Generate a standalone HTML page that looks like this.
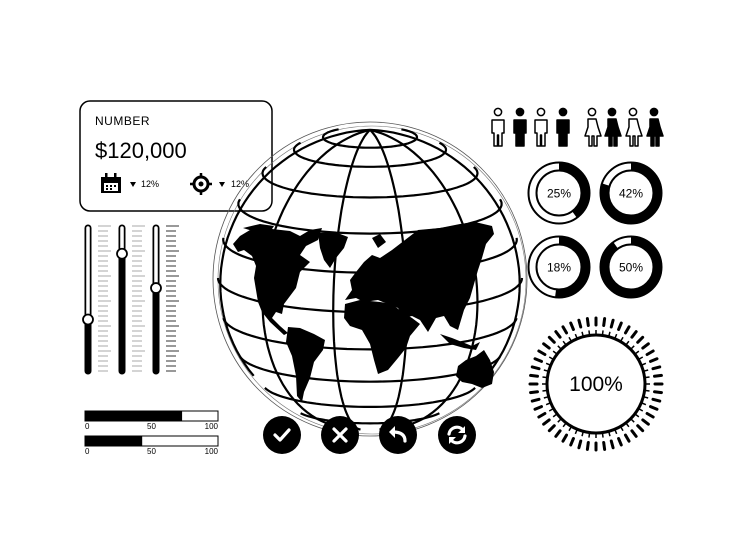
<!DOCTYPE html>
<html><head><meta charset="utf-8"><style>
html,body{margin:0;padding:0;background:#fff;}
svg{display:block;font-family:"Liberation Sans",sans-serif;}
</style></head><body>
<svg id="s" width="740" height="539" viewBox="0 0 740 539">
<g>
<rect x="80" y="101" width="192" height="110" rx="10" fill="#fff" stroke="#000" stroke-width="1.5"/>
<text x="95" y="125" font-size="12" letter-spacing="0.5">NUMBER</text>
<text x="95" y="158" font-size="22">$120,000</text>
<g>
<rect x="101" y="177" width="20" height="16" fill="#000"/>
<rect x="105" y="173" width="2.5" height="6" fill="#000"/><rect x="114" y="173" width="2.5" height="6" fill="#000"/>
<rect x="104" y="183" width="14" height="8" fill="#fff"/>
<g fill="#000"><rect x="106" y="185" width="2" height="2"/><rect x="110" y="185" width="2" height="2"/><rect x="114" y="185" width="2" height="2"/><rect x="106" y="188" width="2" height="2"/><rect x="110" y="188" width="2" height="2"/></g>
</g>
<path d="M130 182h6l-3 5z" fill="#000"/>
<text x="141" y="187" font-size="9">12%</text>
<g>
<circle cx="201" cy="184" r="7" fill="none" stroke="#000" stroke-width="3"/>
<circle cx="201" cy="184" r="2.5" fill="#000"/>
<path d="M201 173v5M201 190v5M190 184h5M207 184h5" stroke="#000" stroke-width="2.5"/>
</g>
<path d="M219 182h6l-3 5z" fill="#000"/>
<text x="231" y="187" font-size="9">12%</text>
</g>
<g id="sliders"></g>
<g id="bars"></g>
<g id="globe"></g>
<g id="people"></g>
<g id="donuts"></g>
<g id="gauge"></g>
<g id="buttons"></g>
</svg>
<script>
const sliderValues=[0.36,0.82,0.58];
const barValues=[73,43];
const barTicks=["0","50","100"];
const donutLabels=["25%","42%","18%","50%"];
const donutFill=[0.40,0.80,0.52,0.90];
const peopleGender=["m","m","m","m","f","f","f","f"];
const peopleFilled=[0,1,0,1,0,1,0,1];
const NS="http://www.w3.org/2000/svg";
function mk(t,a,p){const e=document.createElementNS(NS,t);for(const k in a)e.setAttribute(k,a[k]);p.appendChild(e);return e;}
const sl=document.getElementById('sliders');
const sx=[88,122,156],sTop=228,sBot=371;
sliderValues.forEach((v,i)=>{
 const g=mk('g',{},sl);
 
 
 const ky=sBot-v*(sBot-sTop);
 mk('line',{x1:sx[i],y1:sTop,x2:sx[i],y2:sBot,stroke:'#000','stroke-width':7,'stroke-linecap':'round'},g);
 mk('line',{x1:sx[i],y1:sTop,x2:sx[i],y2:ky,stroke:'#fff','stroke-width':3.5,'stroke-linecap':'round'},g);
 for(let t=0;t<=29;t++){const y=sTop-2+t*5;const w=(t%5==0)?13:10;
  mk('line',{x1:sx[i]+10,y1:y,x2:sx[i]+10+w,y2:y,stroke:i==2?'#333':'#aaa','stroke-width':1},g);}
 const k=mk('circle',{cx:sx[i],cy:ky,r:5,fill:'#fff',stroke:'#000','stroke-width':1.8},g);
 
 
});
const bg=document.getElementById('bars');
const bx0=85,bx1=218,bys=[411,436];
barValues.forEach((v,i)=>{
 const g=mk('g',{},bg);
 
 
 mk('rect',{x:bx0,y:bys[i],width:bx1-bx0,height:10,fill:'#fff',stroke:'#000','stroke-width':1},g);
 mk('rect',{x:bx0,y:bys[i],width:(bx1-bx0)*v/100,height:10,fill:'#000'},g);
 barTicks.forEach((t,j)=>{const tx=mk('text',{x:bx0+j*(bx1-bx0)/2,y:bys[i]+18,'font-size':8,'text-anchor':j==0?'start':j==1?'middle':'end'},g);tx.textContent=t;
  
  });
});
const gl=document.getElementById('globe');
const cx=370,cy=278,R=152,p0=13*Math.PI/180;
mk('circle',{cx:cx,cy:cy+1,r:157,fill:'none',stroke:'#555','stroke-width':0.8},gl);
mk('circle',{cx:cx+2,cy:cy+2,r:154,fill:'none',stroke:'#777','stroke-width':0.6},gl);
function proj(lat,lon){lat*=Math.PI/180;lon*=Math.PI/180;
 const x=Math.cos(lat)*Math.sin(lon);const y=Math.sin(lat)*Math.cos(p0)-Math.cos(lat)*Math.cos(lon)*Math.sin(p0);
 const z=Math.cos(lat)*Math.cos(lon)*Math.cos(p0)+Math.sin(lat)*Math.sin(p0);return [cx+R*x,cy-R*y,z];}
function poly(pts){let d='',on=false;pts.forEach(p=>{if(p[2]>-0.02){d+=(on?'L':'M')+p[0].toFixed(1)+' '+p[1].toFixed(1);on=true;}else on=false;});return d;}
const land=[
"M233,244 L240,236 L250,230 L262,232 L272,229 L290,231 L300,236 L310,230 L322,228 L318,240 L306,246 L300,255 L310,262 L300,272 L296,288 L290,296 L284,304 L282,314 L276,312 L272,318 L280,326 L288,333 L284,335 L270,322 L262,312 L258,302 L256,290 L254,278 L256,266 L252,256 L244,250 L238,252 Z",
"M318,233 L335,232 L348,237 L344,248 L336,258 L330,268 L324,260 L320,248 Z",
"M288,327 L300,328 L314,334 L325,340 L323,350 L314,362 L310,378 L304,392 L302,402 L297,396 L296,376 L292,356 L286,342 Z",
"M345,300 L352,290 L350,280 L356,272 L364,262 L372,255 L380,258 L392,250 L405,240 L418,230 L440,228 L460,224 L475,222 L492,226 L494,234 L486,244 L482,258 L478,270 L474,284 L470,298 L464,310 L458,330 L450,326 L444,316 L436,318 L428,332 L420,320 L412,316 L404,318 L398,308 L388,304 L378,300 L364,302 L356,298 Z",
"M345,304 L360,300 L380,302 L392,304 L402,312 L412,318 L420,324 L410,336 L406,348 L398,358 L388,370 L378,374 L374,360 L370,344 L362,330 L350,326 L344,318 Z",
"M458,366 L466,360 L476,356 L484,350 L490,360 L494,372 L492,384 L482,388 L472,384 L462,382 L456,376 Z",
"M440,334 L452,338 L462,342 L472,346 L480,342 L476,350 L464,348 L450,344 Z",
"M372,238 L380,234 L386,242 L378,248 Z",
"M243,228 L260,224 L274,226 L270,232 L256,232 Z"];
land.forEach((d,i)=>{const p=mk('path',{d:d,fill:'#000'},gl);
 
 });
const lats=[72,60,45,30,15,0,-15,-30,-45,-60];
lats.forEach(la=>{const pts=[];for(let l=-180;l<=180;l+=3)pts.push(proj(la,l));
 mk('path',{d:poly(pts),fill:'none',stroke:'#000','stroke-width':2.2},gl);});
[-80,-45,-14,14,45,80].forEach(lo=>{const pts=[];for(let la=-90;la<=90;la+=3)pts.push(proj(la,lo));
 mk('path',{d:poly(pts),fill:'none',stroke:'#000','stroke-width':2.2},gl);});
const pg=document.getElementById('people');
const px=[498,520,541,563,592,612,633,654];
peopleGender.forEach((gd,i)=>{
 const g=mk('g',{},pg);
 
 
 const f=peopleFilled[i]?'#000':'#fff',x=px[i];
 mk('circle',{cx:x,cy:112,r:3.6,fill:f,stroke:'#000','stroke-width':1.5},g);
 let d;
 if(gd=='m') d=`M${x-6},120 h12 v13 h-2 v13 h-3.5 v-11 h-1 v11 h-3.5 v-13 h-2 z`;
 else d=`M${x-4},119 h8 l2,8 l3,9 h-4 v10 h-3 v-10 h-2 v10 h-3 v-10 h-4 l3,-9 z`;
 mk('path',{d:d,fill:f,stroke:'#000','stroke-width':1.5,'stroke-linejoin':'round'},g);
});
const dg=document.getElementById('donuts');
const dc=[[559,193],[631,193],[559,267],[631,267]];
donutLabels.forEach((lb,i)=>{
 const g=mk('g',{},dg);
 
 
 const [x,y]=dc[i],r=26.5,C=2*Math.PI*r;
 mk('circle',{cx:x,cy:y,r:30.5,fill:'none',stroke:'#000','stroke-width':2},g);
 mk('circle',{cx:x,cy:y,r:22.5,fill:'none',stroke:'#000','stroke-width':2},g);
 mk('circle',{cx:x,cy:y,r:r,fill:'none',stroke:'#000','stroke-width':8,'stroke-dasharray':(C*donutFill[i])+' '+C,transform:`rotate(-90 ${x} ${y})`},g);
 const t=mk('text',{x:x,y:y+4.5,'font-size':12,'text-anchor':'middle'},g);t.textContent=lb;
});
const gg=document.getElementById('gauge');
const gx=596,gy=384;
for(let k=0;k<48;k++){const a=k/48*2*Math.PI;const c=Math.cos(a),s=Math.sin(a);
 mk('line',{x1:gx+c*59,y1:gy+s*59,x2:gx+c*66,y2:gy+s*66,stroke:'#000','stroke-width':3,'stroke-linecap':'round'},gg);
 mk('line',{x1:gx+c*49,y1:gy+s*49,x2:gx+c*54,y2:gy+s*54,stroke:'#000','stroke-width':1.5},gg);}
mk('circle',{cx:gx,cy:gy,r:49,fill:'#fff',stroke:'#000','stroke-width':3},gg);
const gt=mk('text',{x:gx,y:gy+7,'font-size':21,'text-anchor':'middle'},gg);gt.textContent='100%';


const bt=document.getElementById('buttons');
const bcs=[282,340,398,457],names=['confirm-button','cancel-button','undo-button','refresh-button'];
bcs.forEach((x,i)=>{const y=435;
 const g=mk('g',{},bt);
 
 
 mk('circle',{cx:x,cy:y,r:19,fill:'#000'},g);
 const st={fill:'none',stroke:'#fff','stroke-width':3.2,'stroke-linecap':'round','stroke-linejoin':'round'};
 if(i==0)mk('path',Object.assign({d:`M${x-7},${y} l5,5 l9,-10`},st),g);
 if(i==1)mk('path',Object.assign({d:`M${x-6},${y-6} l12,12 M${x+6},${y-6} l-12,12`},st),g);
 if(i==2){mk('path',Object.assign({d:`M${x+7},${y+6} q0,-9 -12,-9`},st),g);mk('path',{d:`M${x-9},${y-3} l6,-6 v12 z`,fill:'#fff'},g);}
 if(i==3){mk('path',Object.assign({d:`M${x-8},${y-1} a8,8 0 0 1 14,-4 M${x+8},${y+1} a8,8 0 0 1 -14,4`},st),g);
  mk('path',{d:`M${x+8},${y-9} v7 h-7 z M${x-8},${y+9} v-7 h7 z`,fill:'#fff'},g);}
});
</script>
</body></html>
